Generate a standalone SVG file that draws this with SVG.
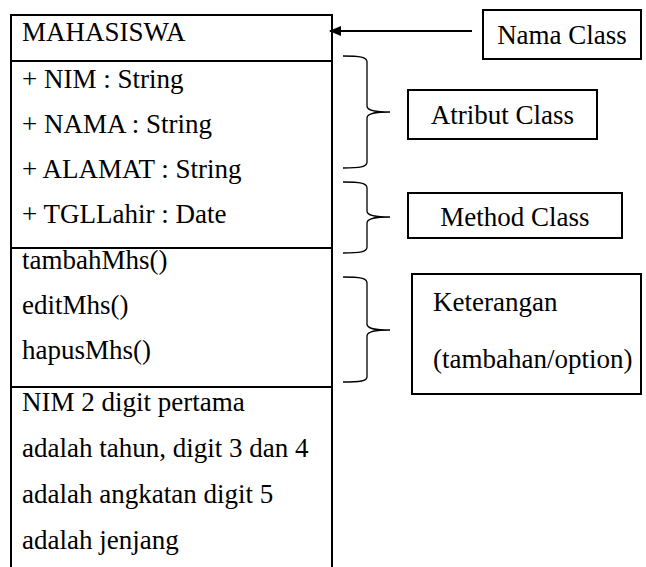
<svg xmlns="http://www.w3.org/2000/svg" width="646" height="567" viewBox="0 0 646 567">
<style>
text{font-family:"Liberation Serif","Times New Roman",serif;font-size:27px;fill:#000}
.box{fill:#fff;stroke:#000;stroke-width:2}
.ln{stroke:#000;stroke-width:2;fill:none}
.br{stroke:#000;stroke-width:1.3;fill:none}
.mid{text-anchor:middle}
</style>
<defs>
<marker id="ah" markerWidth="12" markerHeight="10" refX="11" refY="5" orient="auto" markerUnits="userSpaceOnUse">
<path d="M0,0 L12,5 L0,10 Z" fill="#000"/>
</marker>
</defs>
<rect width="646" height="567" fill="#fff"/>
<g id="class-mahasiswa">
<path class="ln" d="M11,580 V15 H332 V580"/>
<line class="ln" x1="11" y1="61" x2="332" y2="61"/>
<line class="ln" x1="11" y1="248" x2="332" y2="248"/>
<line class="ln" x1="11" y1="387" x2="332" y2="387"/>
<text x="22" y="41">MAHASISWA</text>
<text x="22" y="88">+ NIM : String</text>
<text x="22" y="133">+ NAMA : String</text>
<text x="22" y="178">+ ALAMAT : String</text>
<text x="22" y="223">+ TGLLahir : Date</text>
<text x="22" y="269">tambahMhs()</text>
<text x="22" y="314">editMhs()</text>
<text x="22" y="359">hapusMhs()</text>
<text x="22" y="411">NIM 2 digit pertama</text>
<text x="22" y="457">adalah tahun, digit 3 dan 4</text>
<text x="22" y="503">adalah angkatan digit 5</text>
<text x="22" y="549">adalah jenjang</text>
</g>
<g id="nama-class">
<rect class="box" x="483" y="10" width="158" height="49"/>
<text class="mid" x="562" y="44">Nama Class</text>
</g>
<g id="atribut-class">
<rect class="box" x="408" y="90" width="189" height="49"/>
<text class="mid" x="502.5" y="124">Atribut Class</text>
</g>
<g id="method-class">
<rect class="box" x="408" y="193" width="214" height="45"/>
<text class="mid" x="515" y="226">Method Class</text>
</g>
<g id="keterangan">
<rect class="box" x="412" y="274" width="229" height="120"/>
<text x="433" y="311">Keterangan</text>
<text x="433" y="368">(tambahan/option)</text>
</g>
<g id="connectors">
<line class="ln" x1="472" y1="31" x2="330" y2="31" marker-end="url(#ah)"/>
<path class="br" d="M343,56 C360,56 367,57 367,62 V106 C367,110 372,112 390,112 C372,112 367,114 367,118 V162 C367,167 360,168 343,168"/>
<path class="br" d="M343,182 C360,182 367,183 367,188 V211 C367,215 372,217 390,217 C372,217 367,219 367,223 V247 C367,252 360,253 343,253"/>
<path class="br" d="M343,277 C360,277 367,278 367,283 V324 C367,328 372,330 390,330 C372,330 367,332 367,336 V377 C367,381 360,382 343,382"/>
</g>
</svg>
